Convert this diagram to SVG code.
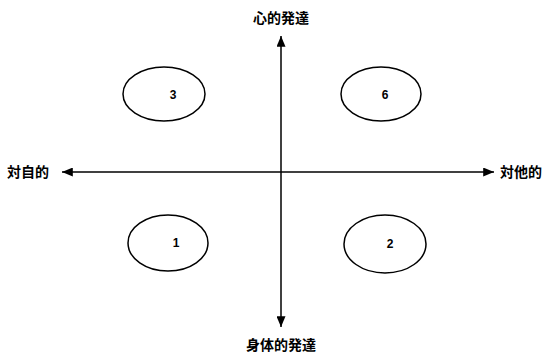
<svg xmlns="http://www.w3.org/2000/svg" width="558" height="356" viewBox="0 0 558 356">
<style>
.lbl{font-family:"Noto Sans CJK JP","Noto Sans CJK SC",sans-serif;font-size:14px;font-weight:bold;fill:#000}
.num{font-family:"Liberation Sans",Arial,sans-serif;font-size:12px;font-weight:bold;fill:#000}
.ell{fill:none;stroke:#000;stroke-width:1.5}
.ax{stroke:#000;stroke-width:1.5;fill:none}
</style>
<defs>
<marker id="ah" viewBox="0 0 12 10" refX="12" refY="5" markerWidth="12" markerHeight="9" markerUnits="userSpaceOnUse" orient="auto-start-reverse">
<path d="M0,0 L12,5 L0,10 z" fill="#000"/>
</marker>
</defs>
<rect width="558" height="356" fill="#fff"/>
<g id="connectors">
<line class="ax" x1="281" y1="327" x2="281" y2="36" marker-start="url(#ah)" marker-end="url(#ah)"/>
<line class="ax" x1="62" y1="172" x2="494" y2="172" marker-start="url(#ah)" marker-end="url(#ah)"/>
</g>
<g id="label-top"><text class="lbl" x="281" y="23" text-anchor="middle">心的発達</text></g>
<g id="label-bottom"><text class="lbl" x="281" y="350" text-anchor="middle">身体的発達</text></g>
<g id="label-left"><text class="lbl" x="7" y="177">対自的</text></g>
<g id="label-right"><text class="lbl" x="500" y="177">対他的</text></g>
<g id="node-3"><ellipse class="ell" cx="164" cy="94" rx="41" ry="27"/><text class="num" x="173" y="99" text-anchor="middle">3</text></g>
<g id="node-6"><ellipse class="ell" cx="381" cy="94" rx="40" ry="27"/><text class="num" x="385" y="99" text-anchor="middle">6</text></g>
<g id="node-1"><ellipse class="ell" cx="168" cy="243" rx="40" ry="28"/><text class="num" x="176" y="247" text-anchor="middle">1</text></g>
<g id="node-2"><ellipse class="ell" cx="385" cy="244" rx="41" ry="29"/><text class="num" x="390" y="248" text-anchor="middle">2</text></g>
</svg>
